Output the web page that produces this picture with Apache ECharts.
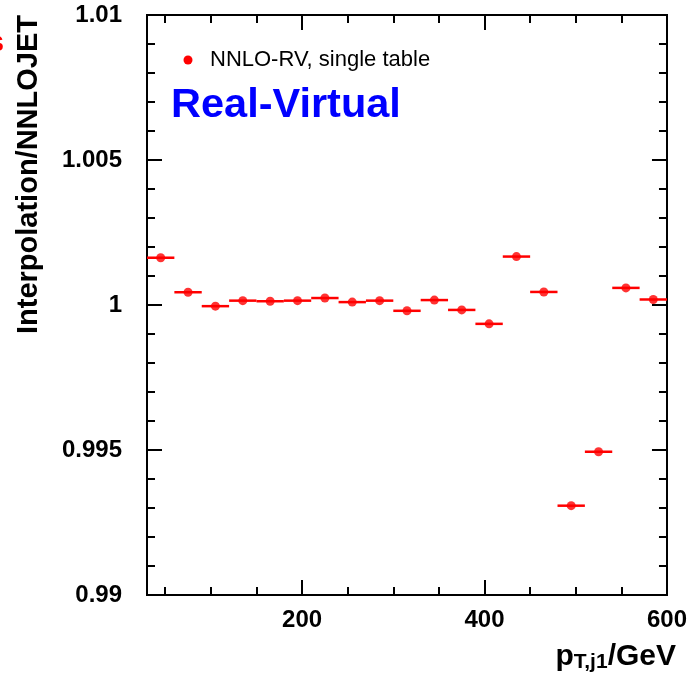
<!DOCTYPE html>
<html>
<head>
<meta charset="utf-8">
<script src="https://cdn.jsdelivr.net/npm/echarts@6/dist/echarts.min.js"></script>
<style>
  html, body { margin: 0; padding: 0; background: #ffffff; }
  #chart { width: 690px; height: 682px; }
</style>
</head>
<body>
<div id="chart"></div>
<script>
// Leading-jet pT bins (GeV): lower and upper edges
var binLow  = [30, 60, 90, 120, 150, 180, 210, 240, 270, 300, 330, 360, 390, 420, 450, 480, 510, 540, 570];
var binHigh = [60, 90, 120, 150, 180, 210, 240, 270, 300, 330, 360, 390, 420, 450, 480, 510, 540, 570, 600];

// Interpolation / NNLOJET ratio per bin (real-virtual, single table)
var ratio = [1.00163, 1.00044, 0.99996, 1.00015, 1.00013, 1.00015, 1.00024, 1.00010, 1.00015, 0.99980,
             1.00017, 0.99983, 0.99935, 1.00167, 1.00045, 0.99308, 0.99494, 1.00059, 1.00019];

// Axis ticks and labels
var xMajorTicks = [200, 400, 600];
var xMinorTicks = [50, 100, 150, 250, 300, 350, 450, 500, 550];
var yMajorTicks = [0.99, 0.995, 1, 1.005, 1.01];
var yTickLabels = ['0.99', '0.995', '1', '1.005', '1.01'];
var yMinorTicks = [0.991, 0.992, 0.993, 0.994, 0.996, 0.997, 0.998, 0.999,
                   1.001, 1.002, 1.003, 1.004, 1.006, 1.007, 1.008, 1.009];

var seriesName = 'NNLO-RV, single table';
var RED = '#ff0000';
var FONT = 'Liberation Sans, Arial, Helvetica, sans-serif';

var points = binLow.map(function (lo, i) { return [(lo + binHigh[i]) / 2, ratio[i]]; });
var bins = binLow.map(function (lo, i) { return [lo, binHigh[i], ratio[i]]; });

function yLabel(v) {
  for (var i = 0; i < yMajorTicks.length; i++) {
    if (Math.abs(yMajorTicks[i] - v) < 1e-9) return yTickLabels[i];
  }
  return '';
}

function makeX(pos, ticks, len, labels) {
  return {
    type: 'value', min: 30, max: 600, position: pos,
    axisLine: { show: true, onZero: false, lineStyle: { color: '#000', width: 2 } },
    axisTick: { show: true, inside: true, length: len, customValues: ticks, lineStyle: { color: '#000', width: 2 } },
    axisLabel: labels ? {
      show: true, customValues: ticks, margin: 13,
      color: '#000', fontFamily: FONT, fontWeight: 'bold', fontSize: 24
    } : { show: false },
    splitLine: { show: false }
  };
}
function makeY(pos, ticks, len, labels) {
  return {
    type: 'value', min: 0.99, max: 1.01, position: pos,
    axisLine: { show: true, onZero: false, lineStyle: { color: '#000', width: 2 } },
    axisTick: { show: true, inside: true, length: len, customValues: ticks, lineStyle: { color: '#000', width: 2 } },
    axisLabel: labels ? {
      show: true, customValues: ticks, margin: 25, formatter: yLabel,
      color: '#000', fontFamily: FONT, fontWeight: 'bold', fontSize: 24
    } : { show: false },
    splitLine: { show: false }
  };
}

var chart = echarts.init(document.getElementById('chart'), null, { renderer: 'canvas' });

chart.setOption({
  animation: false,
  backgroundColor: '#ffffff',
  grid: { left: 147, right: 22, top: 15, bottom: 87 },
  xAxis: [
    makeX('bottom', xMajorTicks, 15, true),
    makeX('bottom', xMinorTicks, 8, false),
    makeX('top', xMajorTicks, 15, false),
    makeX('top', xMinorTicks, 8, false)
  ],
  yAxis: [
    makeY('left', yMajorTicks, 15, true),
    makeY('left', yMinorTicks, 8, false),
    makeY('right', yMajorTicks, 15, false),
    makeY('right', yMinorTicks, 8, false)
  ],
  series: [
    {
      name: 'bin width',
      type: 'custom',
      xAxisIndex: 0, yAxisIndex: 0,
      data: bins,
      renderItem: function (params, api) {
        var a = api.coord([api.value(0), api.value(2)]);
        var b = api.coord([api.value(1), api.value(2)]);
        return {
          type: 'line',
          shape: { x1: a[0], y1: a[1], x2: b[0], y2: b[1] },
          style: { stroke: RED, lineWidth: 2.5 }
        };
      },
      z: 2
    },
    {
      name: seriesName,
      type: 'scatter',
      xAxisIndex: 0, yAxisIndex: 0,
      data: points,
      symbol: 'circle',
      symbolSize: 9,
      itemStyle: { color: RED },
      z: 3
    }
  ],
  graphic: [
    // legend entry
    { type: 'circle', shape: { cx: 188, cy: 60, r: 4.5 }, style: { fill: RED } },
    { type: 'text', x: 210, y: 60,
      style: { text: seriesName, fill: '#000', font: '22px ' + FONT, verticalAlign: 'middle', align: 'left' } },
    // panel label
    { type: 'text', x: 171, y: 106,
      style: { text: 'Real-Virtual', fill: '#0000ff', font: 'bold 41.5px ' + FONT, verticalAlign: 'middle', align: 'left' } },
    // y axis title
    { type: 'text', x: 28.5, y: 15, rotation: Math.PI / 2,
      style: { text: 'Interpolation/NNLOJET', fill: '#000', font: 'bold 29px ' + FONT, align: 'right', verticalAlign: 'middle' } },
    // x axis title with subscript
    { type: 'text', x: 676, y: 672.5,
      style: {
        text: '{a|p}{b|T,j1}{a|/GeV}', align: 'right', verticalAlign: 'bottom', fill: '#000',
        rich: {
          a: { font: 'bold 30px ' + FONT, lineHeight: 32, fill: '#000' },
          b: { font: 'bold 21px ' + FONT, lineHeight: 14, verticalAlign: 'bottom', fill: '#000' }
        }
      } },
    // clipped label from the neighbouring panel
    { type: 'text', x: -11, y: 45,
      style: { text: 'S', fill: RED, font: 'bold 22px ' + FONT, verticalAlign: 'middle', align: 'left' } }
  ]
});
</script>
</body>
</html>
